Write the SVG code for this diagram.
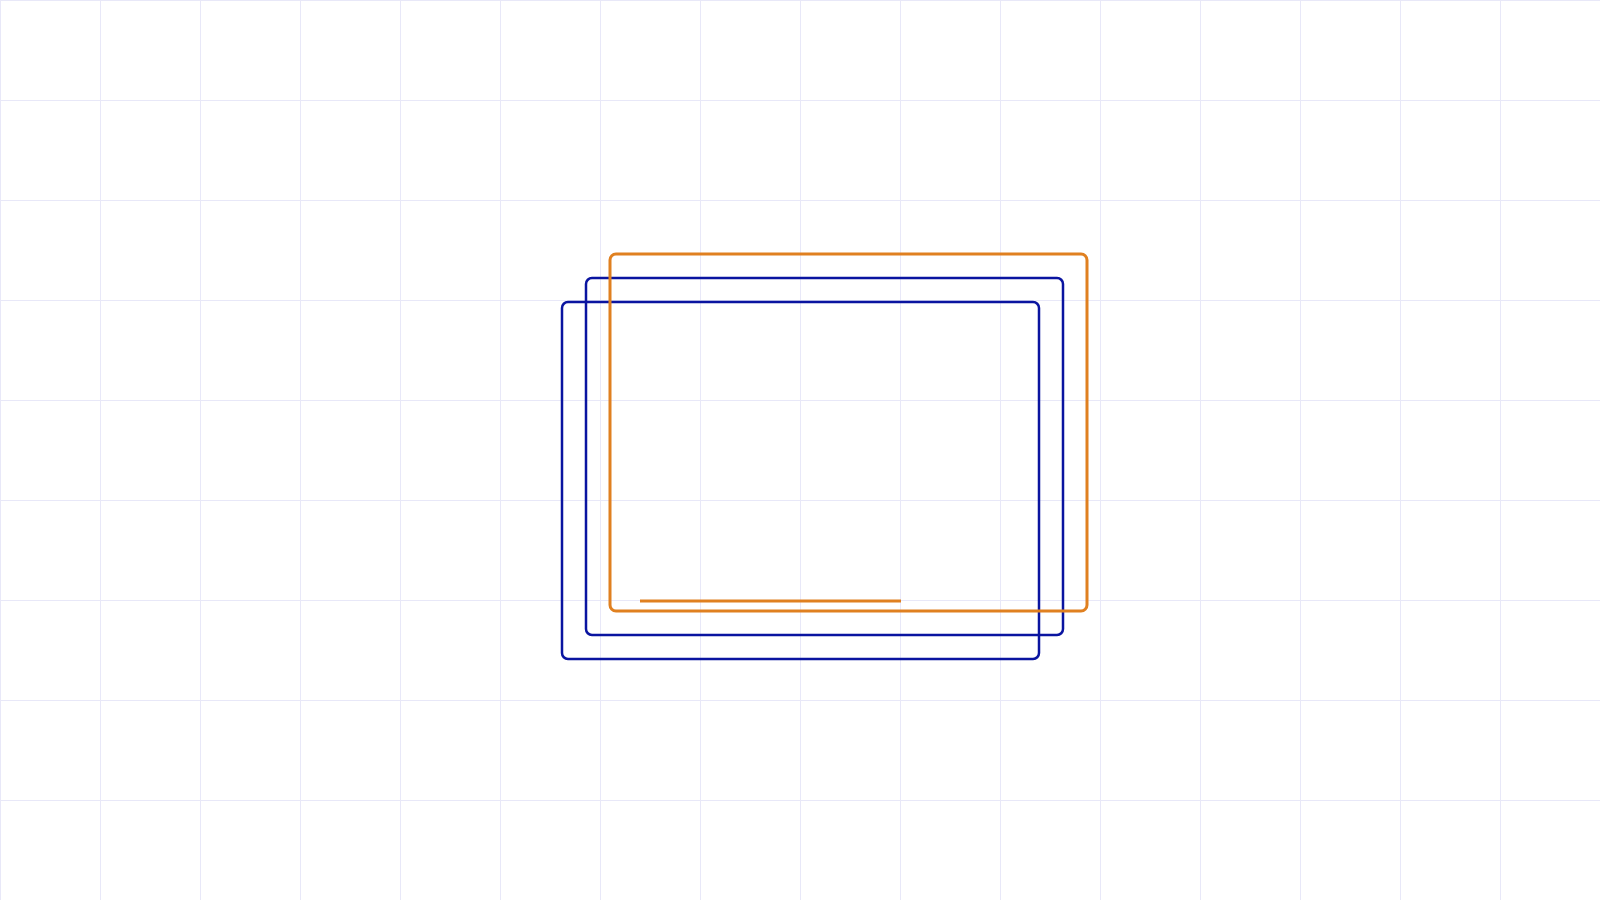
<svg xmlns="http://www.w3.org/2000/svg" width="1600" height="900" viewBox="0 0 1600 900">
<defs>
<style>
.grid line{stroke:#e8e8f8;stroke-width:1}
.blue{fill:none;stroke:#0a14a0;stroke-width:2.5}
.orange{fill:none;stroke:#e08020;stroke-width:3}
</style>
</defs>
<rect x="0" y="0" width="1600" height="900" fill="#ffffff"/>
<g class="grid">
<line x1="0.5" y1="0" x2="0.5" y2="900"/>
<line x1="100.5" y1="0" x2="100.5" y2="900"/>
<line x1="200.5" y1="0" x2="200.5" y2="900"/>
<line x1="300.5" y1="0" x2="300.5" y2="900"/>
<line x1="400.5" y1="0" x2="400.5" y2="900"/>
<line x1="500.5" y1="0" x2="500.5" y2="900"/>
<line x1="600.5" y1="0" x2="600.5" y2="900"/>
<line x1="700.5" y1="0" x2="700.5" y2="900"/>
<line x1="800.5" y1="0" x2="800.5" y2="900"/>
<line x1="900.5" y1="0" x2="900.5" y2="900"/>
<line x1="1000.5" y1="0" x2="1000.5" y2="900"/>
<line x1="1100.5" y1="0" x2="1100.5" y2="900"/>
<line x1="1200.5" y1="0" x2="1200.5" y2="900"/>
<line x1="1300.5" y1="0" x2="1300.5" y2="900"/>
<line x1="1400.5" y1="0" x2="1400.5" y2="900"/>
<line x1="1500.5" y1="0" x2="1500.5" y2="900"/>
<line x1="0" y1="0.5" x2="1600" y2="0.5"/>
<line x1="0" y1="100.5" x2="1600" y2="100.5"/>
<line x1="0" y1="200.5" x2="1600" y2="200.5"/>
<line x1="0" y1="300.5" x2="1600" y2="300.5"/>
<line x1="0" y1="400.5" x2="1600" y2="400.5"/>
<line x1="0" y1="500.5" x2="1600" y2="500.5"/>
<line x1="0" y1="600.5" x2="1600" y2="600.5"/>
<line x1="0" y1="700.5" x2="1600" y2="700.5"/>
<line x1="0" y1="800.5" x2="1600" y2="800.5"/>
</g>
<g id="frame-back">
<rect class="blue" x="562" y="302" width="477" height="357" rx="6"/>
</g>
<g id="frame-middle">
<rect class="blue" x="586" y="278" width="477" height="357" rx="6"/>
</g>
<g id="frame-front">
<rect class="orange" x="610" y="254" width="477" height="357" rx="6"/>
</g>
<g id="connectors">
<line class="orange" x1="640" y1="601" x2="901" y2="601"/>
</g>
</svg>
